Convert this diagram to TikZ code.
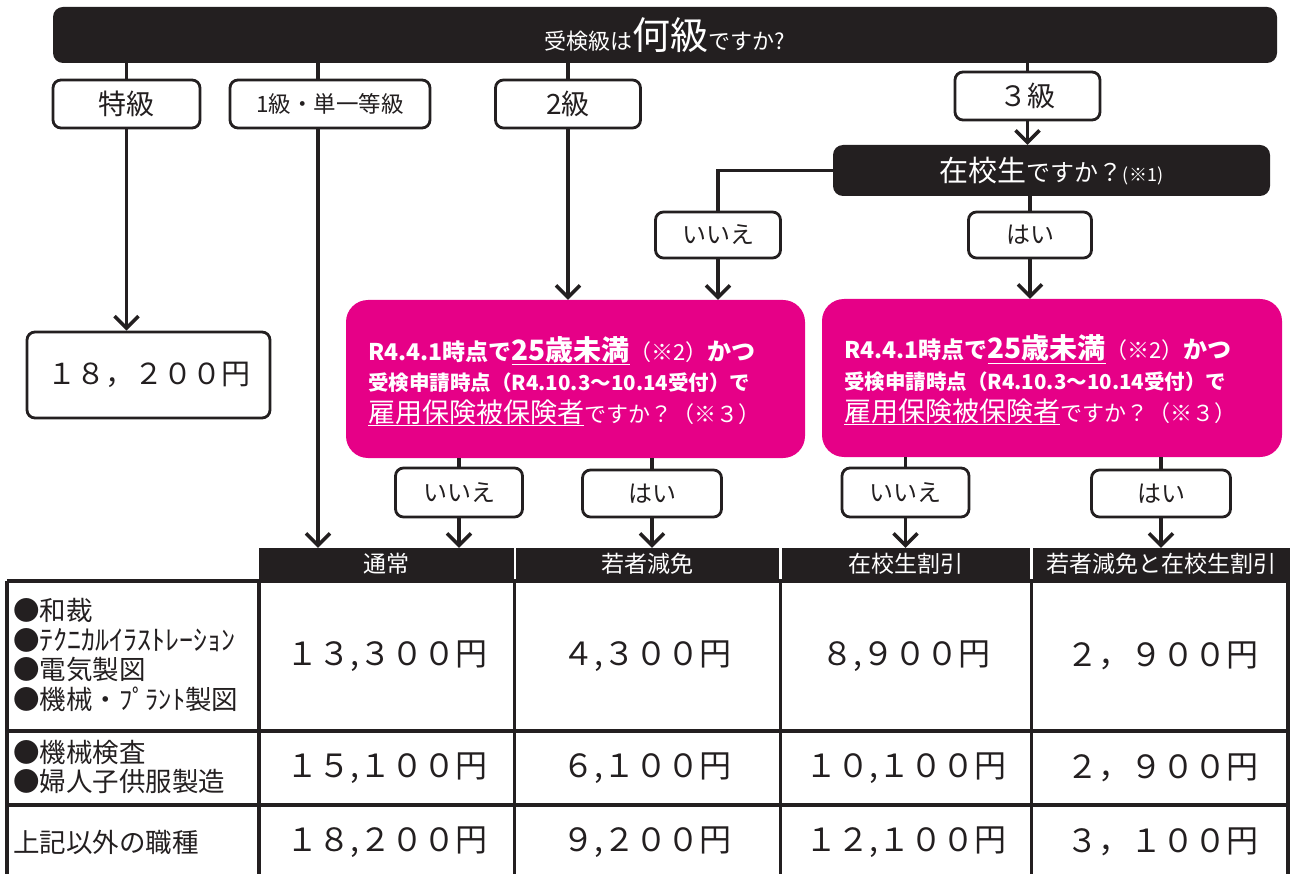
\documentclass[tikz,border=0pt]{standalone}
\usepackage{fontspec}
\setmainfont{Noto Sans CJK JP}
\usetikzlibrary{arrows.meta}
\definecolor{ink}{RGB}{35,31,32}
\definecolor{pinkc}{RGB}{230,0,135}
\newcommand{\myfs}[1]{\fontsize{#1}{#1}\selectfont}
\begin{document}
\begin{tikzpicture}[x=1pt,y=-1pt,
  conn/.style={line width=3.5pt, draw=ink},
  arr/.style={conn, -{Straight Barb[length=12pt,width=24pt]}},
  lbl/.style={draw=ink, line width=2.8pt, fill=white, rounded corners=8pt, inner sep=0pt, text=ink},
  dark/.style={fill=ink, rounded corners=10pt, text=white, inner sep=0pt},
  pinkbox/.style={fill=pinkc, rounded corners=22pt, inner sep=0pt},
  ptext/.style={anchor=base west, text=white, inner sep=0pt},
  hdr/.style={fill=ink, text=white, inner sep=0pt, minimum height=32pt, font=\myfs{23}},
  num/.style={text=ink, inner sep=0pt, font=\myfs{32}},
  gridl/.style={line width=3.5pt, draw=ink},
  side/.style={anchor=west, text=ink, inner sep=0pt, align=left, font=\fontsize{26.5}{29.5}\selectfont},
]
\useasboundingbox (0,0) rectangle (1290,874);

% ---- top question bar
\node[dark, minimum width=1224pt, minimum height=56pt] (top) at (665,35) {};
\node[text=white, inner sep=0pt, anchor=base] (toptxt) at (665,50)
  {{\myfs{22}受検級は}{\myfs{38}何級}{\myfs{22}ですか?}};

% ---- grade boxes
\node[lbl, minimum width=147pt, minimum height=48pt, font=\myfs{28}] (tok) at (126.5,104) {特級};
\node[lbl, minimum width=200pt, minimum height=48pt, font=\myfs{22.5}] (ik) at (330,104) {1級・単一等級};
\node[lbl, minimum width=145pt, minimum height=48pt, font=\myfs{28}] (ni) at (568,104) {2級};
\node[lbl, minimum width=145pt, minimum height=48pt, font=\myfs{28}] (san) at (1027.5,96) {３級};
\coordinate (c1) at (318,0);

% ---- student question
\node[dark, minimum width=437pt, minimum height=51pt] (zai) at (1051.5,170.5) {};
\node[text=white, inner sep=0pt, anchor=base] (zaitxt) at (1051.5,182)
  {{\myfs{29}在校生}{\myfs{24}ですか？}{\myfs{18}(※1)}};
\node[lbl, minimum width=125pt, minimum height=46pt, font=\myfs{24}] (iie1) at (718,235) {いいえ};
\node[lbl, minimum width=123pt, minimum height=46pt, font=\myfs{24}] (hai1) at (1030,235) {はい};

% ---- pink question boxes
\node[pinkbox, minimum width=459pt, minimum height=158pt] (pl) at (575.5,379) {};
\node[pinkbox, minimum width=460pt, minimum height=158pt] (pr) at (1052,378) {};

\node[ptext] (pl1) at (368,360) {{\myfs{23}\textbf{R4.4.1時点で}}{\myfs{28}\textbf{\underline{25歳未満}}}{\myfs{22}（※2）}{\myfs{24}\textbf{かつ}}};
\node[ptext] (pl2) at (368,390) {\myfs{20.5}\textbf{受検申請時点（R4.10.3～10.14受付）で}};
\node[ptext] (pl3) at (368,422) {{\myfs{27}\underline{雇用保険被保険者}}{\myfs{22}ですか？（※３）}};

\node[ptext] (pr1) at (844,359) {{\myfs{23}\textbf{R4.4.1時点で}}{\myfs{28}\textbf{\underline{25歳未満}}}{\myfs{22}（※2）}{\myfs{24}\textbf{かつ}}};
\node[ptext] (pr2) at (844,389) {\myfs{20.5}\textbf{受検申請時点（R4.10.3～10.14受付）で}};
\node[ptext] (pr3) at (844,421) {{\myfs{27}\underline{雇用保険被保険者}}{\myfs{22}ですか？（※３）}};

% ---- answer boxes under pink boxes
\node[lbl, minimum width=127pt, minimum height=49pt, font=\myfs{24}] (iie2) at (459,492.5) {いいえ};
\node[lbl, minimum width=139pt, minimum height=47pt, font=\myfs{24}] (hai2) at (652,493.5) {はい};
\node[lbl, minimum width=127pt, minimum height=49pt, font=\myfs{24}] (iie3) at (905.5,492.5) {いいえ};
\node[lbl, minimum width=139pt, minimum height=47pt, font=\myfs{24}] (hai3) at (1161,493.5) {はい};

% ---- 18,200 box
\node[lbl, minimum width=243pt, minimum height=86pt, font=\myfs{29}] (amt) at (148.5,375) {１８，２００円};

% ---- table header
\node[hdr, minimum width=255pt] (h1) at (386,564) {通常};
\node[hdr, minimum width=263pt] (h2) at (647.5,564) {若者減免};
\node[hdr, minimum width=248pt] (h3) at (906,564) {在校生割引};
\node[hdr, minimum width=257pt] (h4) at (1161.5,564) {若者減免と在校生割引};

% ---- connectors
\draw[conn] (top.south -| tok.north) -- (tok.north);
\draw[conn] (c1 |- top.south) -- (c1 |- ik.north);
\draw[conn] (top.south -| ni.north) -- (ni.north);
\draw[conn] (top.south -| san.north) -- (san.north);
\draw[arr] (tok.south) -- (amt.north -| tok.south);
\draw[arr] (c1 |- ik.south) -- (c1 |- h1.north);
\draw[arr] (ni.south) -- (pl.north -| ni.south);
\draw[arr] (san.south) -- (zai.north -| san.south);
\draw[conn] (zai.west) -| (iie1.north);
\draw[conn] (zai.south -| hai1.north) -- (hai1.north);
\draw[arr] (iie1.south) -- (pl.north -| iie1.south);
\draw[arr] (hai1.south) -- (pr.north -| hai1.south);
\draw[conn] (pl.south -| iie2.north) -- (iie2.north);
\draw[conn] (pl.south -| hai2.north) -- (hai2.north);
\draw[conn] (pr.south -| iie3.north) -- (iie3.north);
\draw[conn] (pr.south -| hai3.north) -- (hai3.north);
\draw[arr] (iie2.south) -- (h1.north -| iie2.south);
\draw[arr] (hai2.south) -- (h2.north -| hai2.south);
\draw[arr] (iie3.south) -- (h3.north -| iie3.south);
\draw[arr] (hai3.south) -- (h4.north -| hai3.south);

% ---- table grid
\draw[gridl] (7,581) -- (1288,581);
\draw[gridl] (7,731) -- (1288,731);
\draw[gridl] (7,805) -- (1288,805);
\draw[gridl] (7,581) -- (7,874);
\draw[gridl] (259,580) -- (259,874);
\draw[gridl] (514.5,580) -- (514.5,874);
\draw[gridl] (780.5,580) -- (780.5,874);
\draw[gridl] (1031.5,580) -- (1031.5,874);
\draw[gridl] (1288,580) -- (1288,874);

% ---- side labels
\node[side] (s1) at (13,655)
  {●和裁\\●{\fontsize{28}{29.5}\selectfont ﾃｸﾆｶﾙｲﾗｽﾄﾚｰｼｮﾝ}\\●電気製図\\●機械・ﾌﾟﾗﾝﾄ製図};
\node[side] (s2) at (13,767)
  {●機械検査\\●婦人子供服製造};
\node[side] (s3) at (13,842) {上記以外の職種};

% ---- amounts
\node[num] (a11) at (387,656) {１３,３００円};
\node[num] (a12) at (647,656) {４,３００円};
\node[num] (a13) at (906,656) {８,９００円};
\node[num] (a14) at (1162,656) {２，９００円};
\node[num] (a21) at (387,768) {１５,１００円};
\node[num] (a22) at (647,768) {６,１００円};
\node[num] (a23) at (906,768) {１０,１００円};
\node[num] (a24) at (1162,768) {２，９００円};
\node[num] (a31) at (387,842) {１８,２００円};
\node[num] (a32) at (647,842) {９,２００円};
\node[num] (a33) at (906,842) {１２,１００円};
\node[num] (a34) at (1162,842) {３，１００円};
\end{tikzpicture}
\end{document}
